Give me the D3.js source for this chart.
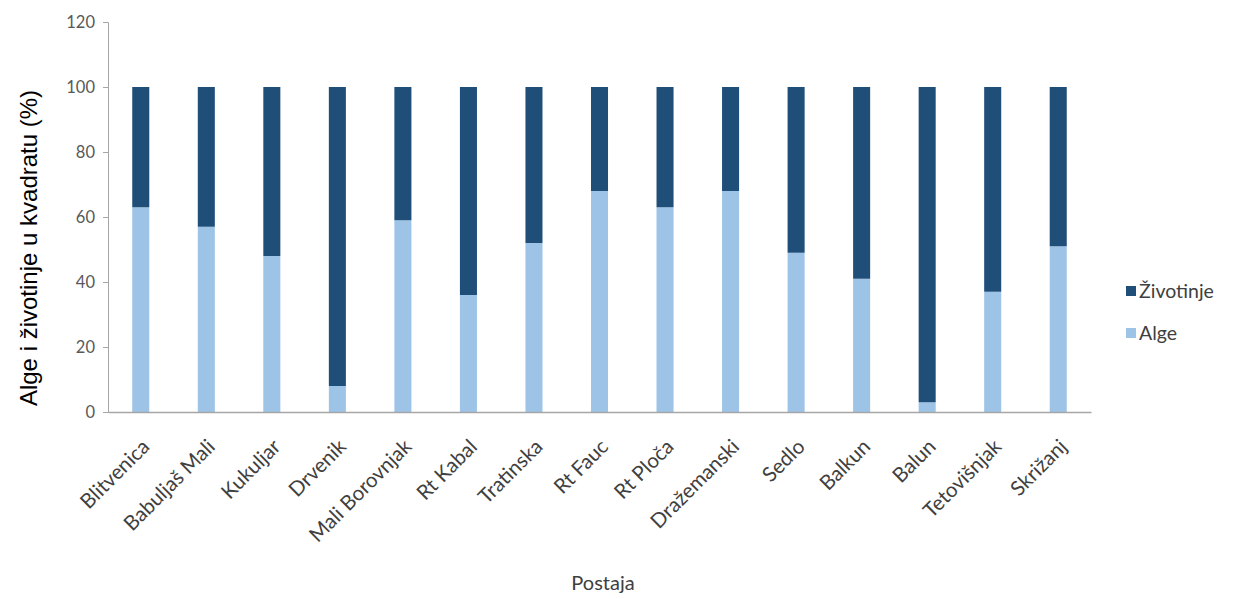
<!DOCTYPE html>
<html><head><meta charset="utf-8">
<script src="https://cdn.jsdelivr.net/npm/d3@7"></script>
<style>body{margin:0;background:#fff;} svg{display:block;}</style>
</head><body>
<svg id="c" width="1249" height="599"></svg>
<script>
const categories = ["Blitvenica","Babuljaš Mali","Kukuljar","Drvenik","Mali Borovnjak","Rt Kabal","Tratinska","Rt Fauc","Rt Ploča","Dražemanski","Sedlo","Balkun","Balun","Tetovišnjak","Skrižanj"];
const alge = [63,57,48,8,59,36,52,68,63,68,49,41,3,37,51];
const zivotinje = alge.map(a => 100 - a);
const yTicks = [0,20,40,60,80,100,120];
const seriesNames = ["Alge","Životinje"];
const colors = {"Alge":"#9dc3e6","Životinje":"#1f4e79"};

(function(){
const svg = d3.select("#c");
const mLeft = 108, mRight = 1091, mTop = 22, mBottom = 412;
const x = d3.scaleBand().domain(categories).range([mLeft, mRight]).paddingInner(0.74).paddingOuter(0.37);
const y = d3.scaleLinear().domain([0,120]).range([mBottom, mTop]);

const rows = categories.map((c,i) => ({cat:c, "Alge":alge[i], "Životinje":zivotinje[i]}));
const stack = d3.stack().keys(seriesNames)(rows);

svg.append("g").selectAll("g").data(stack).join("g")
  .attr("fill", d => colors[d.key])
  .selectAll("rect").data(d => d).join("rect")
  .attr("x", d => x(d.data.cat))
  .attr("width", x.bandwidth())
  .attr("y", d => y(d[1]))
  .attr("height", d => y(d[0]) - y(d[1]));

const ya = svg.append("g").attr("transform", `translate(${mLeft},0)`)
  .call(d3.axisLeft(y).tickValues(yTicks).tickSize(5).tickPadding(8));
ya.select(".domain").attr("stroke","#a6a6a6");
ya.selectAll(".tick line").attr("stroke","#a6a6a6");
ya.selectAll("text").attr("fill","#595959").style("font-family","Lato, 'Open Sans', sans-serif").style("font-size","16.5px");

const xa = svg.append("g").attr("transform", `translate(0,${mBottom})`)
  .call(d3.axisBottom(x).tickSize(0).tickPadding(0));
xa.select(".domain").attr("stroke","#a6a6a6").attr("stroke-width",1.5);
xa.selectAll("text").attr("fill","#404040")
  .style("font-family","Lato, 'Open Sans', sans-serif").style("font-size","20.5px")
  .attr("text-anchor","end").attr("y",0).attr("dy","0")
  .attr("transform","translate(10,36) rotate(-45)");

svg.append("text").attr("transform","translate(37,248) rotate(-90)")
  .attr("text-anchor","middle").attr("fill","#000")
  .style("font-family","'Liberation Sans', Arial, sans-serif").style("font-size","24px")
  .text("Alge i životinje u kvadratu (%)");
svg.append("text").attr("x",603).attr("y",590).attr("text-anchor","middle").attr("fill","#404040")
  .style("font-family","Lato, 'Open Sans', sans-serif").style("font-size","20px")
  .text("Postaja");

const legendItems = ["Životinje","Alge"];
const lg = svg.append("g").selectAll("g").data(legendItems).join("g")
  .attr("transform",(d,i)=>`translate(1126,${291 + i*42})`);
lg.append("rect").attr("x",0).attr("y",-5).attr("width",10).attr("height",10).attr("fill",d=>colors[d]);
lg.append("text").attr("x",13).attr("y",0).attr("dy","0.35em").attr("fill","#404040")
  .style("font-family","Lato, 'Open Sans', sans-serif").style("font-size","19.5px").text(d=>d);
})();
</script>
</body></html>
